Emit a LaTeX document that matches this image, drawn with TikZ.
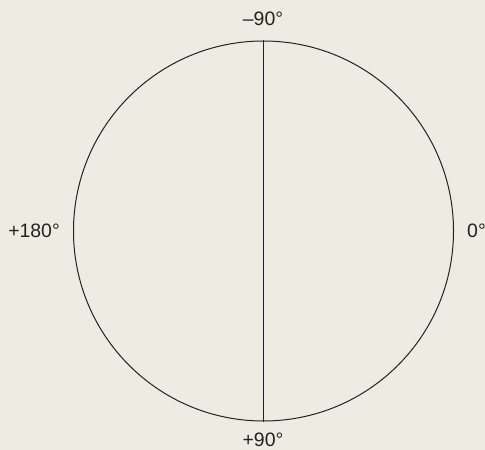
\documentclass[tikz,border=0pt]{standalone}
\usepackage{fontspec}
\setmainfont{Liberation Sans}
\definecolor{bg}{HTML}{EEECE2}
\definecolor{ink}{HTML}{222222}
\begin{document}
\begin{tikzpicture}[x=1bp,y=-1bp,
  lbl/.style={font=\fontsize{19.5}{22}\selectfont, text=ink, inner sep=0pt},
  ring/.style={circle, draw=ink, line width=1bp, minimum size=380bp, inner sep=0pt}]
\fill[bg] (0,0) rectangle (485,450);
\useasboundingbox (0,0) rectangle (485,450);
\node[ring] (circ) at (263.5,231) {};
\draw[ink, line width=1bp] (circ.north) -- (circ.south);
\node[lbl, anchor=base] (top) at (263,26) {–90°};
\node[lbl, anchor=base] (bot) at (263,446) {+90°};
\node[lbl, anchor=base east] (left) at (60,238) {+180°};
\node[lbl, anchor=base west] (right) at (467,238) {0°};
\end{tikzpicture}
\end{document}
